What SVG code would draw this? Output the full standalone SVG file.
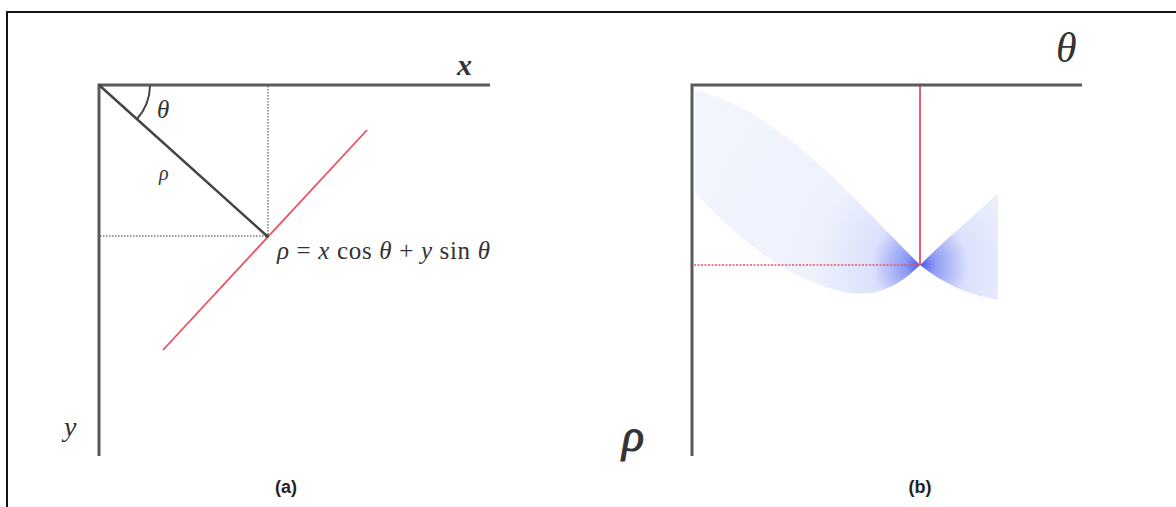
<svg xmlns="http://www.w3.org/2000/svg" width="1176" height="507" viewBox="0 0 1176 507">
<style>
.axis{stroke:#5a5a5a;stroke-width:3;fill:none}
.dot{stroke:#777;stroke-width:1.5;stroke-dasharray:1.5 1.5;fill:none}
.red{stroke:#ee5060;stroke-width:1.8;fill:none}
.redd{stroke:#ee5060;stroke-width:1.6;stroke-dasharray:2 1.5;fill:none}
.m{font-family:"Liberation Serif","DejaVu Serif",serif;font-style:italic;fill:#333}
.u{font-style:normal}
.cap{font-family:"Liberation Sans",Arial,sans-serif;font-weight:bold;font-size:18px;fill:#222}
</style>
<defs>
<radialGradient id="g" gradientUnits="userSpaceOnUse" cx="920" cy="265" r="240">
<stop offset="0" stop-color="#4858f0"/>
<stop offset="0.06" stop-color="#8c98f4"/>
<stop offset="0.2" stop-color="#dbe1fb"/>
<stop offset="0.45" stop-color="#eef2fd"/>
<stop offset="1" stop-color="#f2f5fe"/>
</radialGradient>
</defs>
<rect width="1176" height="507" fill="#fff"/>
<path d="M7,507 V12 H1176" stroke="#111" stroke-width="2" fill="none"/>
<g id="panel-a">
<path class="dot" d="M268,86 V236 M100,236 H267"/>
<path class="axis" d="M99,456 V85 H490"/>
<path d="M99,85 L267,236" stroke="#444" stroke-width="2.5"/>
<path d="M150,86 A51,51 0 0 1 137,119" stroke="#444" stroke-width="2" fill="none"/>
<path class="red" d="M163,350 L367,130"/>
<circle cx="267" cy="236" r="2" fill="#444"/>
<text class="m" x="157" y="118" font-size="25">θ</text>
<text class="m" x="159" y="180" font-size="20">ρ</text>
<text class="m" x="457" y="75" font-size="30" font-weight="bold">x</text>
<text class="m" x="64" y="436" font-size="28">y</text>
<text class="m" x="277" y="259" font-size="25" textLength="213" lengthAdjust="spacing">ρ <tspan class="u">=</tspan> x <tspan class="u">cos</tspan> θ <tspan class="u">+</tspan> y <tspan class="u">sin</tspan> θ</text>
<text class="cap" x="286" y="493" text-anchor="middle">(a)</text>
</g>
<g id="panel-b">
<path fill="url(#g)" d="M695,90 C780,110 860,205 920,265 C895,290 872,296 852,293 C792,285 740,240 695,193 Z"/>
<path fill="url(#g)" d="M920,265 C945,240 975,215 998,193 L998,300 C970,295 945,285 920,265 Z"/>
<path class="red" d="M920,86 V265"/>
<path class="redd" d="M694,265 H920"/>
<path class="axis" d="M692,456 V85 H1082"/>
<text class="m" x="1056" y="62" font-size="42">θ</text>
<text class="m" x="622" y="451" font-size="46" stroke="#333" stroke-width="1">ρ</text>
<text class="cap" x="920" y="493" text-anchor="middle">(b)</text>
</g>
</svg>
